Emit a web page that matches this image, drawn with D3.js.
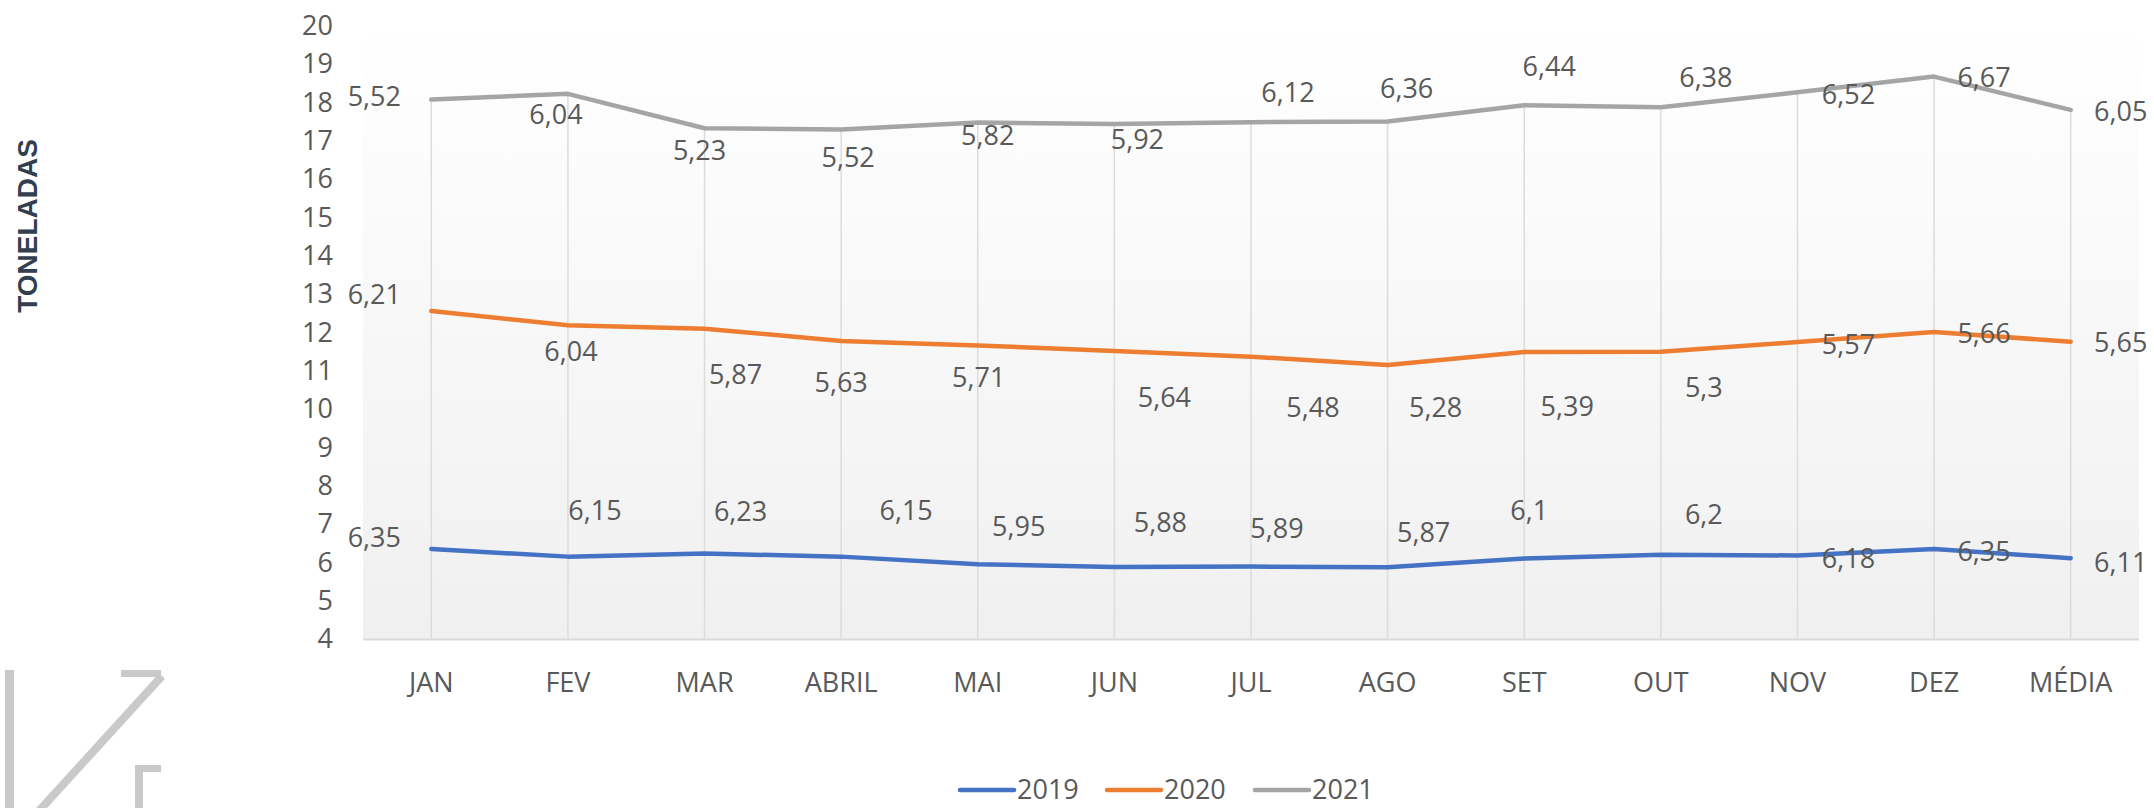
<!DOCTYPE html>
<html>
<head>
<meta charset="utf-8">
<script src="https://cdn.jsdelivr.net/npm/d3@7"></script>
<style>
  body { margin: 0; background: #fff; }
  svg text { font-family: 'Open Sans', sans-serif; }
</style>
</head>
<body>
<div id="chart"></div>
<script>
const meses = ['JAN', 'FEV', 'MAR', 'ABRIL', 'MAI', 'JUN', 'JUL', 'AGO', 'SET', 'OUT', 'NOV', 'DEZ', 'MÉDIA']
const anos = ['2019', '2020', '2021']
const valores2019 = [6.35, 6.15, 6.23, 6.15, 5.95, 5.88, 5.89, 5.87, 6.1, 6.2, 6.18, 6.35, 6.11]
const valores2020 = [6.21, 6.04, 5.87, 5.63, 5.71, 5.64, 5.48, 5.28, 5.39, 5.3, 5.57, 5.66, 5.65]
const valores2021 = [5.52, 6.04, 5.23, 5.52, 5.82, 5.92, 6.12, 6.36, 6.44, 6.38, 6.52, 6.67, 6.05]
const yTicks = d3.range(4, 21)

// deslocamento manual dos rótulos (px, relativo ao ponto)
const offsets = {
    '2019': [[-57, -11], [27, -46], [36, -42], [65, -46], [41, -38], [46, -44], [26, -38], [36, -35], [5, -48], [43, -40], [51, 3], [50, 3], [50, 4]],
    '2020': [[-57, -16], [3, 26], [31, 46], [0, 42], [1, 32], [50, 47], [62, 51], [48, 42], [43, 55], [43, 36], [51, 2], [50, 1], [50, 1]],
    '2021': [[-57, -3], [-12, 21], [-5, 22], [7, 28], [10, 13], [23, 15], [37, -30], [19, -33], [25, -39], [45, -30], [51, 2], [50, 1], [50, 2]]
}
const cores = { '2019': '#4472c4', '2020': '#ed7d31', '2021': '#a5a5a5' }

const width = 2154
const height = 808
const plotLeft = 363, plotRight = 2139, plotTop = 26, plotBottom = 639

const svg = d3.select('#chart')
    .append('svg')
    .attr('width', width)
    .attr('height', height)

const tabela = meses.map((m, i) => ({ mes: m, '2019': valores2019[i], '2020': valores2020[i], '2021': valores2021[i] }))
const series = d3.stack().keys(anos)(tabela)

const xScale = d3.scaleBand()
    .domain(meses)
    .range([plotLeft, plotRight])
const xc = m => xScale(m) + xScale.bandwidth() / 2

const yScale = d3.scaleLinear()
    .domain([4, 20])
    .range([plotBottom, plotTop])

// fundo com gradiente
const grad = svg.append('defs').append('linearGradient')
    .attr('id', 'bg').attr('x1', 0).attr('y1', 0).attr('x2', 0).attr('y2', 1)
grad.append('stop').attr('offset', '0%').attr('stop-color', '#ffffff')
grad.append('stop').attr('offset', '100%').attr('stop-color', '#f0f0f0')

svg.append('rect')
    .attr('x', plotLeft).attr('y', plotTop)
    .attr('width', plotRight - plotLeft).attr('height', plotBottom - plotTop)
    .attr('fill', 'url(#bg)')

// logo
const logo = svg.append('g').attr('fill', '#c9c9c9').attr('stroke', '#c9c9c9')
logo.append('rect').attr('x', 5).attr('y', 670).attr('width', 9).attr('height', 140).attr('stroke', 'none')
logo.append('rect').attr('x', 121).attr('y', 670).attr('width', 40).attr('height', 7).attr('stroke', 'none')
logo.append('line').attr('x1', 162).attr('y1', 676).attr('x2', 38).attr('y2', 812).attr('stroke-width', 8)
logo.append('rect').attr('x', 135).attr('y', 765).attr('width', 26).attr('height', 7).attr('stroke', 'none')
logo.append('rect').attr('x', 135).attr('y', 765).attr('width', 8).attr('height', 45).attr('stroke', 'none')

// drop lines
const topo = series[series.length - 1]
svg.append('g')
    .selectAll('line')
    .data(topo)
    .enter()
    .append('line')
    .attr('x1', d => xc(d.data.mes))
    .attr('x2', d => xc(d.data.mes))
    .attr('y1', d => yScale(d[1]))
    .attr('y2', plotBottom)
    .attr('stroke', '#dcdcdc')
    .attr('stroke-width', 1.5)

// eixo x
svg.append('line')
    .attr('x1', plotLeft).attr('x2', plotRight)
    .attr('y1', plotBottom + 0.5).attr('y2', plotBottom + 0.5)
    .attr('stroke', '#d9d9d9').attr('stroke-width', 2)

const xAxis = d3.axisBottom(xScale).tickSize(0).tickPadding(0)
const gx = svg.append('g')
    .attr('transform', `translate(0, ${plotBottom})`)
    .call(xAxis)
gx.select('.domain').remove()
gx.selectAll('text')
    .attr('y', 44)
    .attr('dy', '0.35em')
    .attr('font-size', 27)
    .attr('font-family', "'Open Sans', sans-serif")
    .attr('fill', '#595959')

const yAxis = d3.axisLeft(yScale).tickValues(yTicks).tickSize(0).tickPadding(0)
const gy = svg.append('g')
    .attr('transform', `translate(333, 0)`)
    .call(yAxis)
gy.select('.domain').remove()
gy.selectAll('text')
    .attr('x', 0)
    .attr('font-size', 27)
    .attr('font-family', "'Open Sans', sans-serif")
    .attr('fill', '#595959')

svg.append('text')
    .attr('transform', 'translate(37, 226) rotate(-90)')
    .attr('text-anchor', 'middle')
    .style('font-family', "'Liberation Sans', Arial, sans-serif")
    .attr('font-size', 28)
    .attr('font-weight', 'bold')
    .attr('fill', '#333f50')
    .text('TONELADAS')

// linhas
const linha = d3.line()
    .x(d => xc(d.data.mes))
    .y(d => yScale(d[1]))

svg.append('g')
    .selectAll('path')
    .data(series)
    .enter()
    .append('path')
    .attr('d', linha)
    .attr('fill', 'none')
    .attr('stroke', s => cores[s.key])
    .attr('stroke-width', 4.5)
    .attr('stroke-linejoin', 'round')
    .attr('stroke-linecap', 'round')

// rótulos
series.forEach(s => {
    svg.append('g')
        .selectAll('text')
        .data(s)
        .enter()
        .append('text')
        .attr('x', (d, i) => xc(d.data.mes) + offsets[s.key][i][0])
        .attr('y', (d, i) => yScale(d[1]) + offsets[s.key][i][1])
        .attr('dy', '0.35em')
        .attr('text-anchor', 'middle')
        .attr('font-size', 27)
        .attr('fill', '#595959')
        .text(d => String(d.data[s.key]).replace('.', ','))
})

// legenda
const legX = [960, 1107, 1255]
const leg = svg.append('g')
    .selectAll('g')
    .data(anos)
    .enter()
    .append('g')
    .attr('transform', (d, i) => `translate(${legX[i]}, 790)`)
leg.append('line')
    .attr('x1', 0).attr('x2', 54)
    .attr('stroke', d => cores[d])
    .attr('stroke-width', 4.5)
    .attr('stroke-linecap', 'round')
leg.append('text')
    .attr('x', 57)
    .attr('dy', '0.35em')
    .attr('font-size', 27)
    .attr('fill', '#595959')
    .text(d => d)
</script>
</body>
</html>
